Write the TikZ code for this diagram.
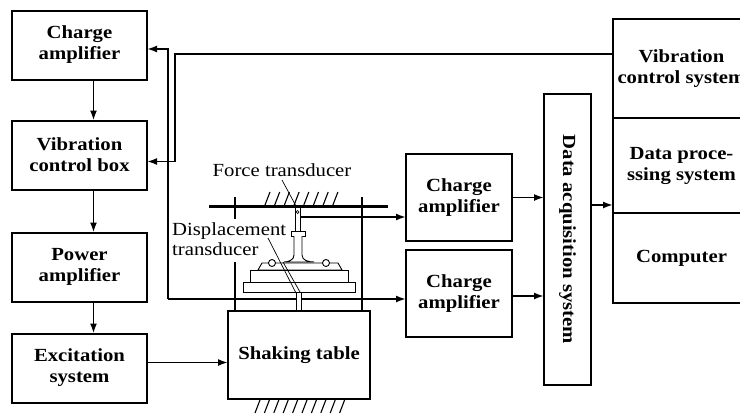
\documentclass[tikz,border=0pt]{standalone}
\usepackage{fontspec}
\setmainfont[FakeStretch=1.12]{Liberation Serif}
\usetikzlibrary{arrows.meta,positioning}

\begin{document}
\begin{tikzpicture}[
    x=1pt, y=-1pt,
    box/.style={draw, line width=2pt, outer sep=0pt, inner sep=0pt, minimum width=135pt, minimum height=69pt, align=center, font=\bfseries\fontsize{18.5}{21}\selectfont},
    lbl/.style={inner sep=0pt, align=left, font=\fontsize{18.5}{20}\selectfont},
    arrow/.style={-{Latex[length=10pt, width=7pt]}, line width=1.9pt},
    wire/.style={line width=1.9pt},
    part/.style={draw, line width=0.9pt, fill=white},
    lead/.style={line width=0.7pt},
    hatch/.style={line width=1.1pt},
]
    \useasboundingbox (0,0) rectangle (740,416);

    % left column
    \node[box] (camp) at (79.5,45) {Charge\\amplifier};
    \node[box, below=41pt of camp] (vbox) {Vibration\\control box};
    \node[box, below=43pt of vbox] (pamp) {Power\\amplifier};
    \node[box, below=32pt of pamp] (exc) {Excitation\\system};

    % test rig
    \node[box, minimum width=142pt, minimum height=88pt] (table) at (299,355) {Shaking table};
    \draw[line width=3pt] (209,206) -- (388,206);
    \foreach \i in {0,...,7} \draw[hatch] (265+\i*9.7,205) -- (270+\i*9.7,192);
    \foreach \i in {0,...,9} \draw[hatch] (255+\i*9.4,413) -- (260+\i*9.4,400);
    \draw[wire] (235,197) -- (235,219) (235,262) -- (235,310);
    \draw[wire] (362,197) -- (362,310);

    \coordinate (fsig) at (300,217);
    \coordinate (dsig) at (301,299);
    \coordinate (bus) at (168,299);
    \coordinate (ctl) at (175,54);
    \draw[wire] (bus) -- (dsig);

    \draw[part] (295,207) rectangle (300,231);
    \draw[lead] (297.5,212) circle (1.5);
    \draw[part] (291,231) rectangle (305,236);
    \draw[part] (294,236) -- (294,255) to[out=-90, in=0] (284,262) -- (314,262) to[out=180, in=-90] (302,255) -- (302,236);
    \draw[part] (258,270) -- (262,263) -- (338,263) -- (342,270) -- cycle;
    \draw[part] (272,263) circle (3.5);
    \draw[part] (326,263) circle (3.5);
    \draw[part] (250,270) rectangle (348,282);
    \draw[part] (243,282) rectangle (355,292);
    \draw[part] (296,292) rectangle (301,310);

    \node[lbl] (ftext) at (282,170) {Force transducer};
    \node[lbl, anchor=west] (dtext) at (172,239.5) {Displacement\\transducer};
    \draw[lead] (282,180) -- (296,206);
    \draw[lead] (268,238) -- (296,293);
    \draw[lead] (283,262) -- (300,292);

    % amplifiers and acquisition
    \node[box, minimum width=106pt, minimum height=87pt] (camp1) at (459,197.5) {Charge\\amplifier};
    \node[box, minimum width=106pt, minimum height=87pt, below=9pt of camp1] (camp2) {Charge\\amplifier};
    \node[box, minimum width=47pt, minimum height=291pt] (daq) at (567.5,239.5) {};
    \node[rotate=-90, font=\bfseries\fontsize{18.5}{21}\selectfont] (daqtext) at (daq) {Data acquisition system};

    % computer
    \node[box, minimum width=137pt, minimum height=99pt] (vcs) at (681.5,68.5) {Vibration\\control system};
    \node[box, minimum width=137pt, minimum height=95pt, below=0pt of vcs] (dps) {Data proce-\\ssing system};
    \node[box, minimum width=137pt, minimum height=90pt, below=0pt of dps] (comp) {Computer};

    \draw[arrow] ([xshift=14pt]camp.south) -- ([xshift=14pt]vbox.north);
    \draw[arrow] ([xshift=14pt]vbox.south) -- ([xshift=14pt]pamp.north);
    \draw[arrow] ([xshift=14pt]pamp.south) -- ([xshift=14pt]exc.north);
    \draw[arrow] ([yshift=5.5pt]exc.east) -- ([yshift=5.5pt]exc.east -| table.west);
    \draw[arrow] (bus) |- ([yshift=-4pt]camp.east);
    \draw[arrow] ([yshift=14.5pt]vcs.west) -- (ctl) |- ([yshift=-6.5pt]vbox.east);
    \draw[arrow] (fsig) -- (fsig -| camp1.west);
    \draw[arrow] (dsig) -- (dsig -| camp2.west);
    \draw[arrow] (camp1.east) -- (camp1.east -| daq.west);
    \draw[arrow] ([yshift=-2.5pt]camp2.east) -- ([yshift=-2.5pt]camp2.east -| daq.west);
    \draw[arrow] ([yshift=34.5pt]daq.east) -- ([yshift=34.5pt]daq.east -| dps.west);
\end{tikzpicture}
\end{document}
